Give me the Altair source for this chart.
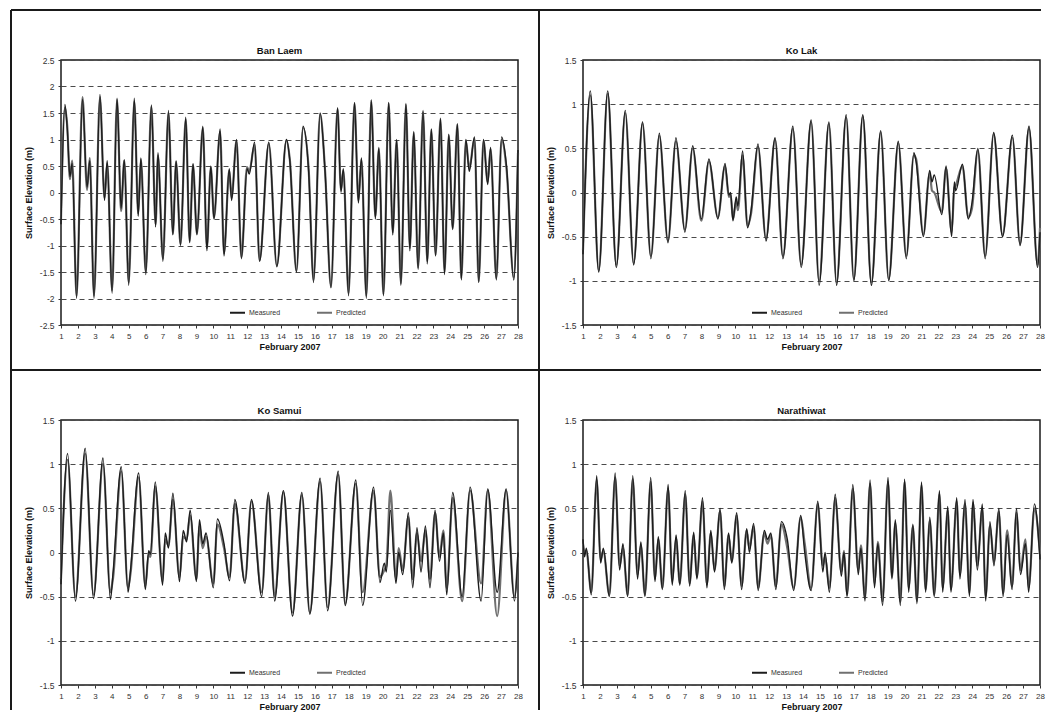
import altair as alt
import pandas as pd

DAY_TICKS = list(range(1, 29))
TICKS_BIG = [-2.5, -2, -1.5, -1, -0.5, 0, 0.5, 1, 1.5, 2, 2.5]
TICKS_SMALL = [-1.5, -1, -0.5, 0, 0.5, 1, 1.5]
SERIES = ["Measured", "Predicted"]

# (day of February 2007, measured elevation m, predicted elevation m) at turning points
BAN_LAEM = [
    (1.00, -0.60, -0.50), (1.23, 1.66, 1.60), (1.37, 1.20, 1.25), (1.53, 0.30, 0.25),
    (1.66, 0.55, 0.60), (1.92, -2.00, -1.95), (2.27, 1.76, 1.80), (2.54, 0.10, 0.05),
    (2.70, 0.60, 0.65), (2.95, -2.00, -1.95), (3.30, 1.85, 1.80), (3.57, -0.15, -0.10),
    (3.73, 0.60, 0.55), (4.02, -1.90, -1.85), (4.31, 1.78, 1.75), (4.55, -0.30, -0.35),
    (4.74, 0.62, 0.60), (5.00, -1.75, -1.70), (5.33, 1.78, 1.72), (5.56, -0.45, -0.40),
    (5.72, 0.65, 0.62), (6.01, -1.55, -1.50), (6.34, 1.65, 1.62), (6.59, -0.65, -0.60),
    (6.73, 0.75, 0.70), (7.02, -1.30, -1.25), (7.35, 1.55, 1.50), (7.61, -0.80, -0.78),
    (7.80, 0.60, 0.58), (8.06, -1.00, -0.98), (8.37, 1.42, 1.38), (8.60, -0.95, -0.92),
    (8.80, 0.55, 0.52), (9.03, -0.80, -0.78), (9.38, 1.25, 1.22), (9.62, -1.10, -1.05),
    (9.85, 0.50, 0.48), (10.04, -0.50, -0.48), (10.40, 1.20, 1.15), (10.63, -1.20, -1.15),
    (10.94, 0.45, 0.42), (11.08, -0.15, -0.10), (11.37, 1.00, 0.98), (11.66, -1.25, -1.22),
    (11.99, 0.45, 0.48), (12.12, 0.35, 0.40), (12.44, 0.95, 0.90), (12.73, -1.30, -1.28),
    (13.28, 0.95, 0.92), (13.75, -1.40, -1.38), (14.32, 1.00, 0.98), (14.52, 0.60, 0.62),
    (14.91, -1.50, -1.48), (15.30, 1.25, 1.22), (15.63, 0.40, 0.45), (15.92, -1.70, -1.65),
    (16.31, 1.50, 1.48), (16.60, 0.40, 0.42), (16.95, -1.80, -1.78), (17.34, 1.60, 1.58),
    (17.54, 0.00, 0.05), (17.68, 0.45, 0.42), (17.99, -1.95, -1.90), (18.34, 1.70, 1.68),
    (18.57, -0.20, -0.15), (18.75, 0.65, 0.62), (19.04, -2.00, -1.95), (19.33, 1.75, 1.72),
    (19.57, -0.50, -0.45), (19.78, 0.85, 0.82), (20.05, -1.95, -1.92), (20.36, 1.70, 1.68),
    (20.60, -0.80, -0.75), (20.83, 1.00, 0.98), (21.08, -1.75, -1.72), (21.38, 1.68, 1.65),
    (21.61, -1.10, -1.05), (21.84, 1.15, 1.12), (22.10, -1.45, -1.42), (22.39, 1.55, 1.52),
    (22.64, -1.35, -1.30), (22.88, 1.20, 1.18), (23.13, -1.20, -1.18), (23.42, 1.40, 1.38),
    (23.66, -1.55, -1.50), (23.91, 1.10, 1.08), (24.14, -0.70, -0.68), (24.42, 1.30, 1.28),
    (24.65, -1.65, -1.62), (24.92, 1.00, 0.98), (25.12, 0.40, 0.45), (25.43, 1.05, 1.02),
    (25.68, -1.70, -1.68), (25.96, 1.00, 0.98), (26.21, 0.15, 0.20), (26.38, 0.85, 0.82),
    (26.72, -1.65, -1.62), (27.03, 1.05, 1.00), (27.32, 0.50, 0.45), (27.75, -1.65, -1.60),
    (28.00, 0.80, 0.75),
]

KO_LAK = [
    (1.00, -0.70, -0.65), (1.43, 1.15, 1.10), (1.93, -0.90, -0.88), (2.46, 1.15, 1.12),
    (2.97, -0.85, -0.82), (3.50, 0.93, 0.90), (3.99, -0.82, -0.80), (4.52, 0.80, 0.78),
    (5.01, -0.75, -0.72), (5.51, 0.67, 0.64), (6.02, -0.57, -0.55), (6.49, 0.62, 0.58),
    (7.02, -0.45, -0.42), (7.48, 0.53, 0.50), (7.99, -0.30, -0.32), (8.44, 0.38, 0.35),
    (8.97, -0.30, -0.28), (9.39, 0.33, 0.30), (9.62, -0.03, -0.05), (9.72, 0.00, -0.02),
    (9.86, -0.32, -0.30), (10.05, -0.05, -0.10), (10.15, -0.15, -0.20), (10.43, 0.47, 0.42),
    (10.72, -0.40, -0.38), (10.92, -0.22, -0.25), (11.34, 0.55, 0.52), (11.81, -0.55, -0.52),
    (12.35, 0.62, 0.60), (12.81, -0.75, -0.72), (13.40, 0.75, 0.72), (13.89, -0.85, -0.82),
    (14.48, 0.82, 0.80), (14.95, -1.05, -1.00), (15.53, 0.80, 0.78), (15.98, -1.05, -1.02),
    (16.55, 0.88, 0.85), (17.00, -1.00, -0.98), (17.53, 0.88, 0.86), (18.04, -1.05, -1.02),
    (18.59, 0.70, 0.68), (19.06, -1.00, -0.98), (19.63, 0.58, 0.56), (20.10, -0.75, -0.72),
    (20.55, 0.45, 0.42), (20.68, 0.35, 0.38), (21.11, -0.50, -0.48), (21.48, 0.25, 0.22),
    (21.62, 0.12, 0.02), (21.75, 0.20, 0.00), (22.20, -0.25, -0.22), (22.45, 0.30, 0.28),
    (22.78, -0.50, -0.45), (22.94, 0.12, 0.05), (23.02, 0.02, 0.08), (23.42, 0.32, 0.30),
    (23.76, -0.30, -0.28), (23.98, -0.12, -0.18), (24.33, 0.50, 0.48), (24.76, -0.75, -0.72),
    (25.26, 0.68, 0.66), (25.79, -0.50, -0.48), (26.37, 0.65, 0.62), (26.82, -0.60, -0.58),
    (27.35, 0.75, 0.72), (27.86, -0.85, -0.82), (28.00, -0.45, -0.40),
]

KO_SAMUI = [
    (1.00, -0.36, -0.30), (1.39, 1.12, 1.05), (1.85, -0.55, -0.50), (2.43, 1.18, 1.12),
    (2.92, -0.52, -0.48), (3.48, 1.07, 1.00), (3.92, -0.53, -0.45), (4.08, -0.22, -0.28),
    (4.56, 0.97, 0.92), (4.96, -0.45, -0.40), (5.10, -0.22, -0.25), (5.59, 0.90, 0.85),
    (5.98, -0.42, -0.38), (6.18, 0.02, -0.02), (6.28, -0.02, -0.05), (6.57, 0.80, 0.75),
    (7.00, -0.37, -0.33), (7.16, 0.22, 0.15), (7.35, 0.05, 0.08), (7.61, 0.67, 0.60),
    (8.00, -0.33, -0.28), (8.22, 0.25, 0.18), (8.42, 0.12, 0.15), (8.63, 0.48, 0.42),
    (9.00, -0.33, -0.30), (9.18, 0.37, 0.30), (9.37, 0.10, 0.05), (9.57, 0.22, 0.18),
    (10.00, -0.40, -0.35), (10.24, 0.38, 0.32), (10.63, 0.10, 0.05), (10.96, -0.32, -0.28),
    (11.27, 0.60, 0.55), (11.87, -0.35, -0.32), (12.25, 0.60, 0.58), (12.86, -0.50, -0.45),
    (13.25, 0.68, 0.65), (13.62, -0.55, -0.50), (14.14, 0.70, 0.68), (14.68, -0.72, -0.68),
    (15.23, 0.68, 0.65), (15.70, -0.70, -0.68), (16.31, 0.84, 0.80), (16.75, -0.66, -0.62),
    (17.38, 0.92, 0.88), (17.79, -0.60, -0.58), (18.42, 0.82, 0.78), (18.82, -0.60, -0.45),
    (19.47, 0.74, 0.70), (19.84, -0.34, -0.28), (20.10, -0.12, -0.20), (20.22, -0.22, -0.15),
    (20.46, 0.48, 0.70), (20.79, -0.35, -0.30), (20.95, 0.00, 0.05), (21.19, -0.25, -0.20),
    (21.52, 0.45, 0.40), (21.78, -0.40, -0.30), (22.03, 0.28, 0.22), (22.27, -0.22, -0.10),
    (22.53, 0.30, 0.25), (22.80, -0.40, -0.30), (23.10, 0.48, 0.45), (23.36, -0.10, -0.05),
    (23.59, 0.22, 0.25), (23.79, -0.48, -0.40), (24.14, 0.68, 0.62), (24.70, -0.50, -0.55),
    (25.17, 0.74, 0.70), (25.82, -0.55, -0.35), (26.21, 0.72, 0.70), (26.77, -0.45, -0.72),
    (27.30, 0.72, 0.70), (27.79, -0.55, -0.50), (28.00, 0.00, -0.05),
]

NARATHIWAT = [
    (1.00, 0.15, 0.10), (1.09, -0.05, 0.00), (1.20, 0.05, 0.02), (1.49, -0.48, -0.45),
    (1.81, 0.87, 0.82), (2.04, -0.12, -0.08), (2.20, 0.05, 0.02), (2.56, -0.50, -0.48),
    (2.90, 0.90, 0.85), (3.16, -0.20, -0.15), (3.36, 0.10, 0.05), (3.64, -0.50, -0.48),
    (3.94, 0.87, 0.83), (4.22, -0.30, -0.25), (4.42, 0.12, 0.08), (4.66, -0.50, -0.48),
    (5.00, 0.85, 0.80), (5.25, -0.33, -0.30), (5.45, 0.18, 0.15), (5.69, -0.42, -0.40),
    (6.03, 0.77, 0.72), (6.27, -0.37, -0.33), (6.50, 0.20, 0.16), (6.72, -0.37, -0.35),
    (7.04, 0.70, 0.66), (7.30, -0.38, -0.35), (7.54, 0.23, 0.20), (7.73, -0.30, -0.28),
    (8.06, 0.62, 0.58), (8.32, -0.40, -0.36), (8.55, 0.25, 0.22), (8.77, -0.22, -0.20),
    (9.10, 0.50, 0.47), (9.35, -0.42, -0.38), (9.60, 0.22, 0.20), (9.79, -0.12, -0.10),
    (10.08, 0.45, 0.42), (10.37, -0.42, -0.38), (10.67, 0.27, 0.25), (10.83, 0.00, 0.05),
    (11.08, 0.33, 0.30), (11.35, -0.43, -0.40), (11.71, 0.25, 0.22), (11.90, 0.15, 0.10),
    (12.10, 0.22, 0.20), (12.39, -0.42, -0.38), (12.72, 0.35, 0.32), (13.07, 0.15, 0.05),
    (13.45, -0.43, -0.40), (13.86, 0.42, 0.40), (14.10, 0.00, 0.10), (14.48, -0.43, -0.40),
    (14.87, 0.58, 0.55), (15.17, -0.22, -0.15), (15.30, 0.00, -0.05), (15.56, -0.45, -0.40),
    (15.90, 0.66, 0.62), (16.26, -0.27, -0.22), (16.42, 0.00, 0.02), (16.60, -0.50, -0.48),
    (16.94, 0.77, 0.72), (17.26, -0.25, -0.20), (17.42, 0.05, 0.08), (17.66, -0.55, -0.52),
    (17.96, 0.82, 0.78), (18.22, -0.40, -0.35), (18.42, 0.10, 0.12), (18.70, -0.60, -0.55),
    (19.02, 0.85, 0.80), (19.25, -0.30, -0.28), (19.45, 0.37, 0.33), (19.75, -0.60, -0.56),
    (20.00, 0.83, 0.80), (20.24, -0.45, -0.40), (20.49, 0.32, 0.30), (20.73, -0.58, -0.55),
    (21.00, 0.80, 0.76), (21.24, -0.45, -0.42), (21.49, 0.40, 0.36), (21.75, -0.50, -0.48),
    (22.06, 0.70, 0.66), (22.25, -0.45, -0.40), (22.55, 0.52, 0.48), (22.74, -0.45, -0.42),
    (23.08, 0.62, 0.58), (23.27, -0.30, -0.25), (23.57, 0.60, 0.55), (23.83, -0.50, -0.46),
    (24.04, 0.60, 0.56), (24.30, -0.20, -0.15), (24.59, 0.55, 0.50), (24.79, -0.55, -0.50),
    (25.04, 0.35, 0.30), (25.28, -0.15, -0.10), (25.57, 0.50, 0.46), (25.82, -0.50, -0.46),
    (26.06, 0.20, 0.25), (26.35, -0.42, -0.38), (26.61, 0.50, 0.45), (26.85, -0.25, -0.20),
    (27.14, 0.10, 0.15), (27.33, -0.45, -0.40), (27.67, 0.55, 0.50), (28.00, -0.08, -0.02),
]

FONT = "Liberation Sans"
W, H = 457, 265
COL_GAP, ROW_GAP = 65, 95
ONE_ROW = alt.InlineData(values=[{"k": 0}])


def panel(rows, domain, ticks, title, frame=None):
    df = pd.DataFrame(rows, columns=["day"] + SERIES).melt(
        "day", var_name="series", value_name="elev")
    color = alt.Color(
        "series:N",
        scale=alt.Scale(domain=SERIES, range=["#1c1c1c", "#707070"]),
        legend=alt.Legend(title=None, orient="none", legendX=168, legendY=244,
                          direction="horizontal", symbolType="stroke", symbolSize=225,
                          symbolStrokeWidth=2, labelFontSize=7, labelColor="#333",
                          labelFont=FONT, columnPadding=32, padding=0, labelOffset=3),
    )
    x = alt.X("day:Q", scale=alt.Scale(domain=[1, 28], nice=False, zero=False),
              axis=alt.Axis(values=DAY_TICKS, title="February 2007", grid=False,
                            domain=False, tickSize=3, tickColor="#333",
                            labelFontSize=8, labelColor="#333", labelPadding=4,
                            labelOverlap=False, labelFlush=False, labelFont=FONT,
                            titleFontSize=9, titleFontWeight="bold", titlePadding=2,
                            titleColor="#111", titleFont=FONT))
    y = alt.Y("elev:Q", scale=alt.Scale(domain=domain, nice=False, zero=False),
              axis=alt.Axis(values=ticks, title="Surface Elevation (m)", grid=True,
                            gridDash=[5, 4], gridColor="#4a4a4a", gridWidth=1,
                            domain=False, tickSize=3, tickColor="#333",
                            labelFontSize=8.5, labelColor="#333", labelPadding=4,
                            labelFont=FONT, labelExpr="'' + datum.value",
                            titleFontSize=9, titleFontWeight="bold", titlePadding=6,
                            titleColor="#111", titleFont=FONT))
    base = alt.Chart(df).encode(x=x, y=y, color=color)
    pred = base.transform_filter(alt.datum.series == "Predicted").mark_line(
        interpolate="monotone", strokeWidth=2.2)
    meas = base.transform_filter(alt.datum.series == "Measured").mark_line(
        interpolate="monotone", strokeWidth=1.4)
    head = alt.Chart(ONE_ROW).mark_text(
        text=title, font=FONT, fontSize=9.5, fontWeight="bold", color="#111",
        align="center", baseline="middle").encode(
        x=alt.value(W / 2 - 10), y=alt.value(-9))
    layers = [pred, meas, head]
    if frame:
        for (x1, x2, y1, y2) in frame:
            layers.append(
                alt.Chart(ONE_ROW).mark_rule(color="#1a1a1a", strokeWidth=2).encode(
                    x=alt.value(x1), x2=alt.value(x2), y=alt.value(y1), y2=alt.value(y2)))
    return alt.layer(*layers).properties(width=W, height=H)


# page-frame segments, in pixels relative to the top-left plot
FL, FT, FR, FB = -50, -50, 980, 650
DIVX, DIVY = W + 21, H + 45
FRAME = [
    (FL, FR, FT, FT),
    (FL, FL, FT, FB),
    (DIVX, DIVX, FT, FB),
    (FL, FR, DIVY, DIVY),
]

tl = panel(BAN_LAEM, [-2.5, 2.5], TICKS_BIG, "Ban Laem", FRAME)
tr = panel(KO_LAK, [-1.5, 1.5], TICKS_SMALL, "Ko Lak")
bl = panel(KO_SAMUI, [-1.5, 1.5], TICKS_SMALL, "Ko Samui")
br = panel(NARATHIWAT, [-1.5, 1.5], TICKS_SMALL, "Narathiwat")

chart = alt.concat(
    tl, tr, bl, br, columns=2,
    spacing={"row": ROW_GAP, "column": COL_GAP}, bounds="flush",
).resolve_scale(
    x="independent", y="independent", color="independent"
).properties(
    padding={"left": 1, "top": 0, "right": 0, "bottom": 0},
    background="white",
).configure(font=FONT).configure_view(stroke="#1a1a1a", strokeWidth=1.5)

chart.save("out.html", embed_options={"renderer": "svg", "actions": False})
